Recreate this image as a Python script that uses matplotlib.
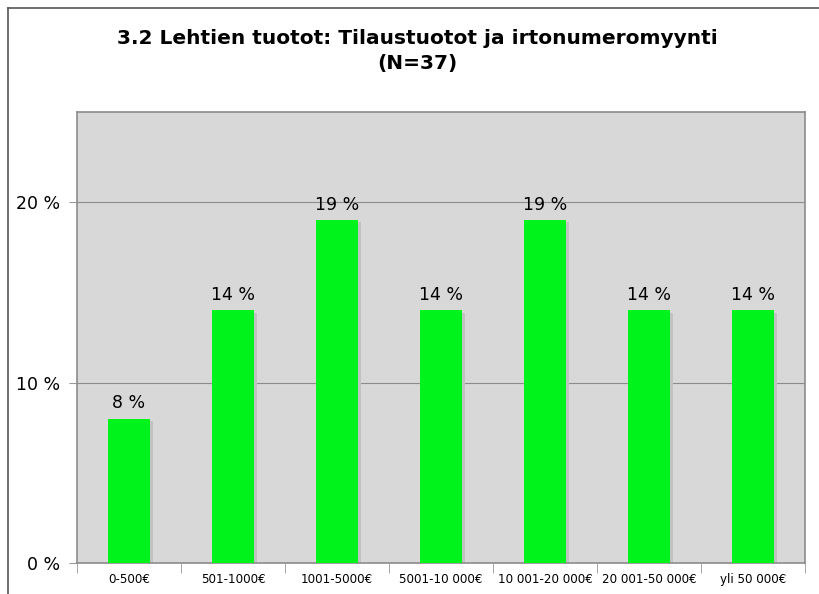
import matplotlib.pyplot as plt
from matplotlib.lines import Line2D
import numpy as np

# Dati
kategoriat = ["0-500€", "501-1000€", "1001-5000€", "5001-10 000€",
              "10 001-20 000€", "20 001-50 000€", "yli 50 000€"]
osuudet = [8, 14, 19, 14, 19, 14, 14]
y_ticks = [0, 10, 20]
y_labels = ["0 %", "10 %", "20 %"]

fig = plt.figure(figsize=(8.19, 5.94), dpi=100)
ax = fig.add_axes([77 / 819, 1 - 563 / 594, 728 / 819, 451 / 594])

x = np.arange(len(kategoriat))
leveys = 0.41

# varjo palkkien oikealla puolella
ax.bar(x + 0.03, np.array(osuudet) - 0.12, width=leveys, color="#c2c2c2", zorder=2)
ax.bar(x, osuudet, width=leveys, color="#00f31a", zorder=3)

for xi, v in zip(x, osuudet):
    ax.text(xi, v + 0.35, f"{v} %", ha="center", va="bottom", fontsize=12.5, zorder=4)

ax.set_facecolor("#d8d8d8")
ax.set_xlim(-0.5, len(kategoriat) - 0.5)
ax.set_ylim(0, 25)
ax.set_yticks(y_ticks)
ax.set_yticklabels(y_labels, fontsize=12.5)
ax.set_xticks(x)
ax.set_xticklabels(kategoriat, fontsize=8.6)
ax.tick_params(axis="x", length=0, pad=7)
ax.set_xticks(np.arange(len(kategoriat) + 1) - 0.5, minor=True)
ax.tick_params(axis="x", which="minor", length=7, color="#999999")
ax.tick_params(axis="y", length=6, color="#999999", pad=6)
ax.grid(axis="y", color="#8c8c8c", linewidth=0.8, zorder=1)
for s in ax.spines.values():
    s.set_color("#8c8c8c")
    s.set_linewidth(1.2)

fig.text(0.51, 1 - 38 / 594, "3.2 Lehtien tuotot: Tilaustuotot ja irtonumeromyynti",
         ha="center", va="center", fontsize=14.5, fontweight="bold")
fig.text(0.51, 1 - 63 / 594, "(N=37)", ha="center", va="center",
         fontsize=14.5, fontweight="bold")

# kehys vasemmalla ja ylhäällä
fig.add_artist(Line2D([8 / 819, 8 / 819], [0, 1 - 8 / 594], color="#555555", lw=1.2))
fig.add_artist(Line2D([8 / 819, 1], [1 - 8 / 594, 1 - 8 / 594], color="#555555", lw=1.2))

fig.savefig("out.png", dpi=100)
